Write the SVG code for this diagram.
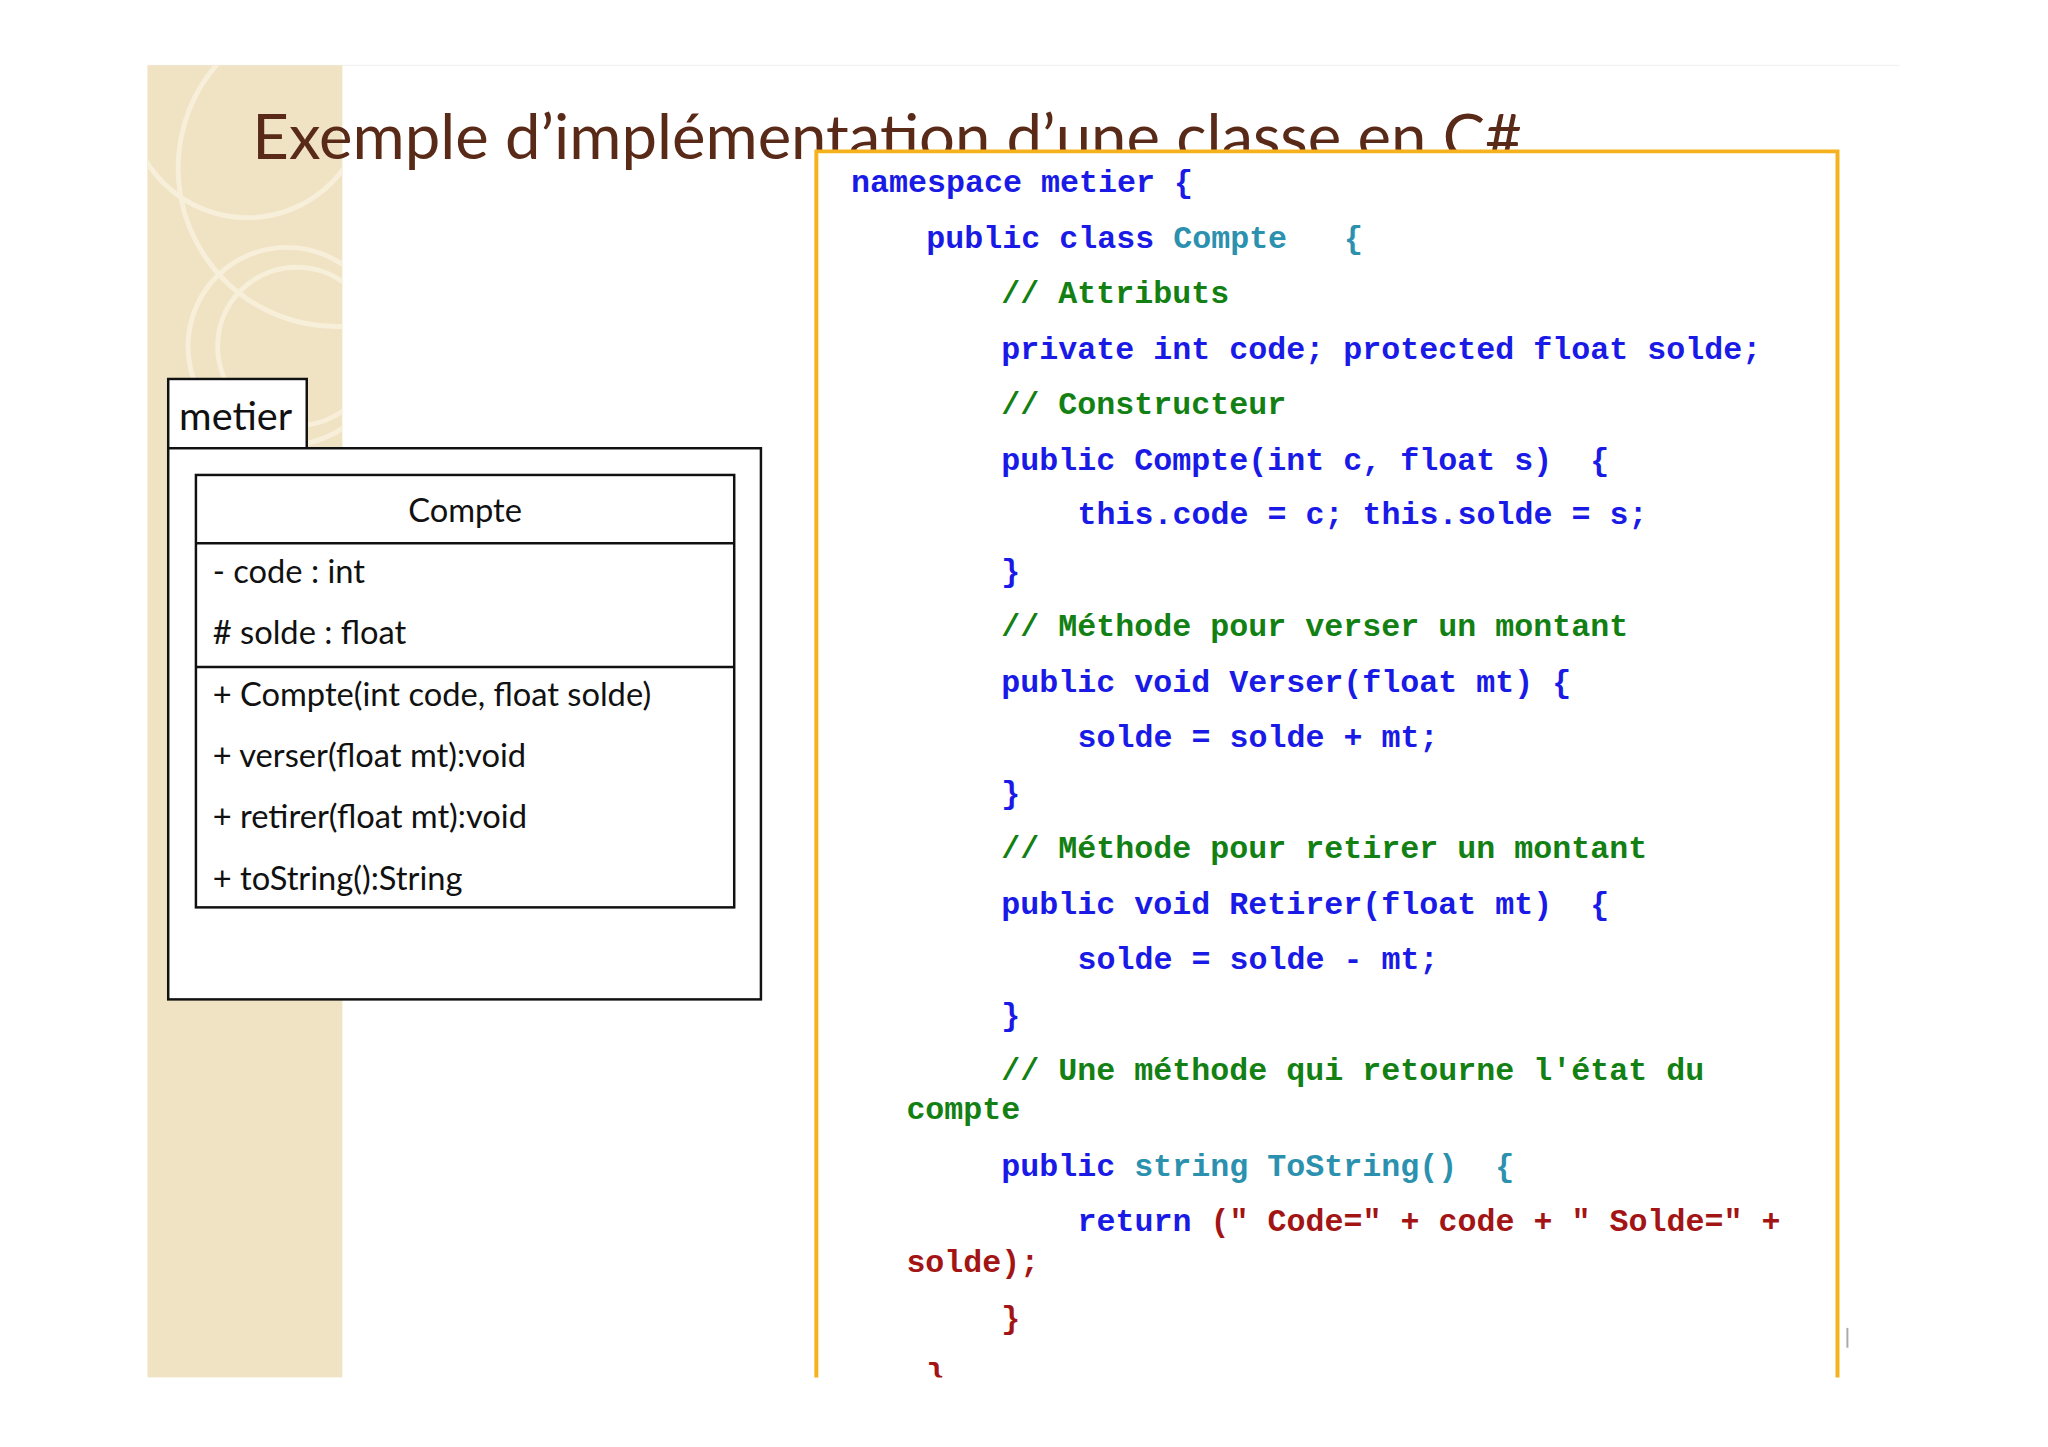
<svg xmlns="http://www.w3.org/2000/svg" width="2048" height="1447" viewBox="0 0 2048 1447">
<style>
.code{font-family:"Liberation Mono",monospace;font-weight:bold;font-size:32px;white-space:pre}
.k{fill:#1a1ae6}.g{fill:#138013}.t{fill:#2b91af}.r{fill:#a31515}
.uml{font-family:"Lato","Open Sans",sans-serif;font-size:33px;fill:#111}
</style>
<defs><clipPath id="side"><rect x="149" y="66" width="197" height="1326"/></clipPath>
<clipPath id="boxc"><rect x="825" y="150" width="1040" height="1242"/></clipPath></defs>
<rect width="2048" height="1447" fill="#fff"/>
<g transform="scale(0.9895)">
<line x1="149" y1="66" x2="1920" y2="66" stroke="#f0f0f0" stroke-width="1"/>
<g id="sidebar">
<rect x="149" y="66" width="197" height="1326" fill="#efe3c3"/>
<g clip-path="url(#side)" fill="none" stroke="#f7efd9" stroke-width="5">
<circle cx="250" cy="100" r="120"/>
<circle cx="340" cy="170" r="160"/>
<circle cx="290" cy="350" r="100"/>
<circle cx="300" cy="350" r="80"/>
</g></g>
<text id="title" x="255" y="161" font-family="Lato,'Open Sans',sans-serif" font-size="62" fill="#5a2a18" textLength="1283" lengthAdjust="spacingAndGlyphs">Exemple d’implémentation d’une classe en C#</text>
<g id="code">
<path d="M825 1392 V153 H1857 V1392" fill="#fff" stroke="#f5b21c" stroke-width="4"/>
<g clip-path="url(#boxc)" class="code" xml:space="preserve">
<text x="860" y="194" class="k">namespace metier {</text>
<text x="936" y="251" xml:space="preserve"><tspan class="k">public class </tspan><tspan class="t">Compte   {</tspan></text>
<text x="1012" y="306" class="g">// Attributs</text>
<text x="1012" y="363" class="k">private int code; protected float solde;</text>
<text x="1012" y="418" class="g">// Constructeur</text>
<text x="1012" y="475" class="k" xml:space="preserve">public Compte(int c, float s)  {</text>
<text x="1089" y="530" class="k">this.code = c; this.solde = s;</text>
<text x="1012" y="587" class="k">}</text>
<text x="1012" y="643" class="g">// Méthode pour verser un montant</text>
<text x="1012" y="699" class="k">public void Verser(float mt) {</text>
<text x="1089" y="755" class="k">solde = solde + mt;</text>
<text x="1012" y="812" class="k">}</text>
<text x="1012" y="867" class="g">// Méthode pour retirer un montant</text>
<text x="1012" y="924" class="k" xml:space="preserve">public void Retirer(float mt)  {</text>
<text x="1089" y="979" class="k">solde = solde - mt;</text>
<text x="1012" y="1036" class="k">}</text>
<text x="1012" y="1091" class="g">// Une méthode qui retourne l'état du</text>
<text x="916" y="1131" class="g">compte</text>
<text x="1012" y="1188" xml:space="preserve"><tspan class="k">public </tspan><tspan class="t">string ToString()  {</tspan></text>
<text x="1089" y="1244" xml:space="preserve"><tspan class="k">return </tspan><tspan class="r">(" Code=" + code + " Solde=" +</tspan></text>
<text x="916" y="1285" class="r">solde);</text>
<text x="1012" y="1342" class="r">}</text>
<text x="936" y="1400" class="r">}</text>
</g></g>
<line x1="1867" y1="1342" x2="1867" y2="1362" stroke="#aaa" stroke-width="2"/>
<g id="package">
<rect x="170" y="383" width="140" height="70" fill="#fff" stroke="#111" stroke-width="2.5"/>
<text x="181" y="435" font-family="Lato,'Open Sans',sans-serif" font-size="40" fill="#111">metier</text>
<rect x="170" y="453" width="599" height="557" fill="#fff" stroke="#111" stroke-width="2.5"/>
</g>
<g id="class-compte">
<rect x="198" y="480" width="544" height="437" fill="#fff" stroke="#111" stroke-width="2.5"/>
<line x1="198" y1="549" x2="742" y2="549" stroke="#111" stroke-width="2.5"/>
<line x1="198" y1="674" x2="742" y2="674" stroke="#111" stroke-width="2.5"/>
<text x="470" y="528" text-anchor="middle" class="uml" font-size="44">Compte</text>
<text x="215" y="589" class="uml">- code : int</text>
<text x="215" y="651" class="uml"># solde : float</text>
<text x="215" y="713" class="uml">+ Compte(int code, float solde)</text>
<text x="215" y="775" class="uml">+ verser(float mt):void</text>
<text x="215" y="837" class="uml">+ retirer(float mt):void</text>
<text x="215" y="899" class="uml">+ toString():String</text>
</g>
</g>
</svg>
